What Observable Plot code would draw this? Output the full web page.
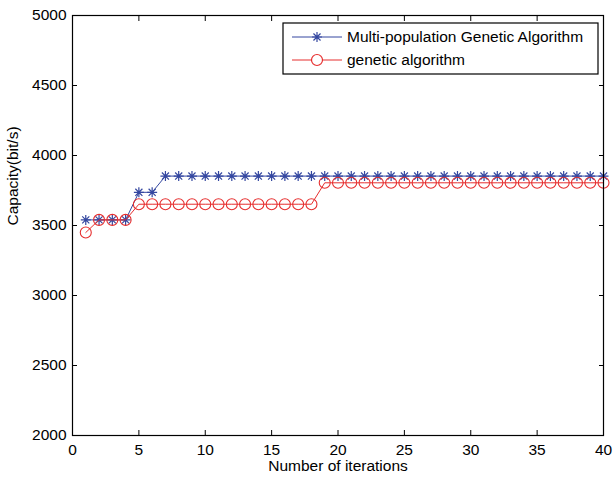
<!DOCTYPE html>
<html><head><meta charset="utf-8">
<script src="https://cdn.jsdelivr.net/npm/d3@7"></script>
<script src="https://cdn.jsdelivr.net/npm/@observablehq/plot@0.6"></script>
<style>
html,body{margin:0;padding:0;background:#fff;}
</style>
</head><body><div id="chart"></div>
<script>
const iterations = [1,2,3,4,5,6,7,8,9,10,11,12,13,14,15,16,17,18,19,20,21,22,23,24,25,26,27,28,29,30,31,32,33,34,35,36,37,38,39,40];
const mgaCapacity = [3540,3540,3540,3540,3737,3737,3853,3853,3853,3853,3853,3853,3853,3853,3853,3853,3853,3853,3853,3853,3853,3853,3853,3853,3853,3853,3853,3853,3853,3853,3853,3853,3853,3853,3853,3853,3853,3853,3853,3853];
const gaCapacity = [3450,3540,3540,3540,3652,3652,3652,3652,3652,3652,3652,3652,3652,3652,3652,3652,3652,3652,3805,3805,3805,3805,3805,3805,3805,3805,3805,3805,3805,3805,3805,3805,3805,3805,3805,3805,3805,3805,3805,3805];
const xTicks = [0,5,10,15,20,25,30,35,40];
const yTicks = [2000,2500,3000,3500,4000,4500,5000];
const seriesNames = ["Multi-population Genetic Algorithm","genetic algorithm"];
const seriesColors = ["#3447a0","#e62e2e"];
const xLabel = "Number of iterations";
const yLabel = "Capacity(bit/s)";

const star8 = {draw(ctx, size){
  const r = Math.sqrt(size/Math.PI), d = r*Math.SQRT1_2;
  ctx.moveTo(-r,0); ctx.lineTo(r,0);
  ctx.moveTo(0,-r); ctx.lineTo(0,r);
  ctx.moveTo(-d,-d); ctx.lineTo(d,d);
  ctx.moveTo(-d,d); ctx.lineTo(d,-d);
}};

const mga = iterations.map((x,i)=>({x, y: mgaCapacity[i]}));
const ga = iterations.map((x,i)=>({x, y: gaCapacity[i]}));
const font = "'Liberation Sans', Arial, Helvetica, sans-serif";

const svg = Plot.plot({
  width: 613, height: 480,
  marginLeft: 72, marginRight: 10, marginTop: 15, marginBottom: 45,
  style: {fontFamily: font, fontSize: "15.5px", background: "white", color: "black", overflow: "visible"},
  x: {domain: [0,40]},
  y: {domain: [2000,5000]},
  marks: [
    Plot.axisX(xTicks, {anchor: "bottom", tickSize: 0, tickPadding: 8, label: null}),
    Plot.axisX(xTicks, {anchor: "bottom", tickSize: 5, dy: -5, fill: "none", label: null}),
    Plot.axisX(xTicks, {anchor: "top", tickSize: 5, dy: 5, fill: "none", label: null}),
    Plot.axisY(yTicks, {anchor: "left", tickSize: 0, tickPadding: 6, tickFormat: "d", label: null}),
    Plot.axisY(yTicks, {anchor: "left", tickSize: 5, dx: 5, fill: "none", label: null}),
    Plot.axisY(yTicks, {anchor: "right", tickSize: 5, dx: -5, fill: "none", label: null}),
    Plot.line(mga, {x: "x", y: "y", stroke: seriesColors[0], strokeWidth: 1}),
    Plot.dot(mga, {x: "x", y: "y", symbol: star8, r: 5, stroke: seriesColors[0], strokeWidth: 1.2, fill: "none"}),
    Plot.line(ga, {x: "x", y: "y", stroke: seriesColors[1], strokeWidth: 1}),
    Plot.dot(ga, {x: "x", y: "y", symbol: "circle", r: 5.5, stroke: seriesColors[1], strokeWidth: 1.1, fill: "none"}),
    Plot.frame({stroke: "black", strokeWidth: 1.2}),
    Plot.text([xLabel], {frameAnchor: "bottom", dy: 35, fontSize: 15.5}),
    Plot.text([yLabel], {frameAnchor: "left", rotate: -90, dx: -59, fontSize: 15.5})
  ]
});

// legend (MATLAB-style box inside the axes)
const lg = d3.select(svg).append("g").attr("font-family", font).attr("font-size", 15.5).attr("text-anchor", "start");
lg.append("rect").attr("x", 283).attr("y", 23).attr("width", 315).attr("height", 51)
  .attr("fill", "white").attr("stroke", "black").attr("stroke-width", 1.2);
const rowsY = [37, 60];
seriesNames.forEach((name, i) => {
  const y = rowsY[i];
  lg.append("line").attr("x1", 292).attr("x2", 342).attr("y1", y).attr("y2", y)
    .attr("stroke", seriesColors[i]).attr("stroke-width", 1);
  const sym = i === 0 ? star8 : d3.symbolCircle;
  lg.append("path").attr("transform", `translate(317,${y})`)
    .attr("d", d3.symbol(sym, Math.PI * (i === 0 ? 25 : 30.25))())
    .attr("fill", i === 0 ? "none" : "white").attr("stroke", seriesColors[i]).attr("stroke-width", 1.2);
  lg.append("text").attr("x", 347).attr("y", y).attr("dy", "0.35em").attr("fill", "black")
    .attr("text-anchor", "start").text(name);
});

document.getElementById("chart").appendChild(svg);
</script>
</body></html>
